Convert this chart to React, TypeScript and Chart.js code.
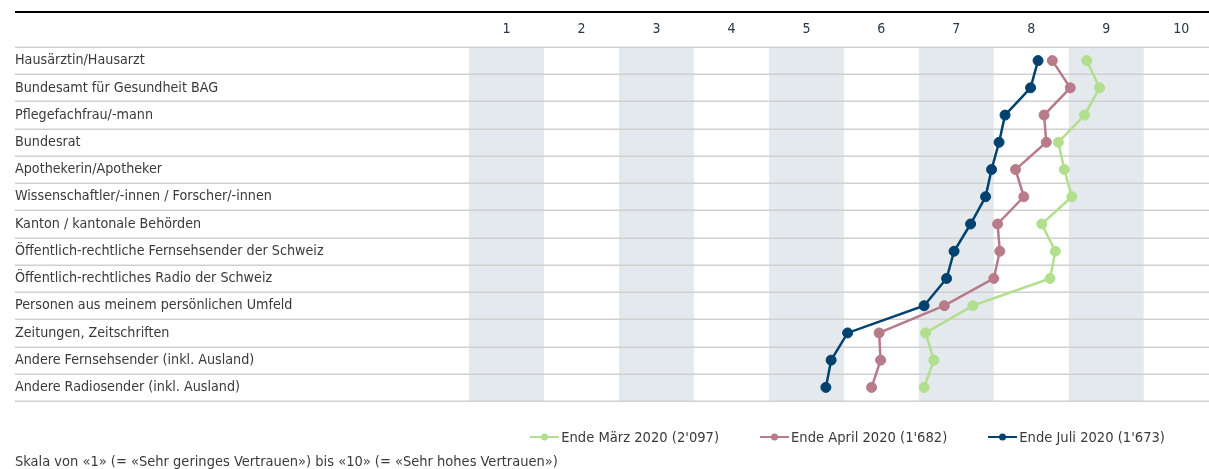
import React, { useEffect, useRef } from 'react';
import { Chart, registerables } from 'chart.js';

Chart.register(...registerables);

const categories = [
  'Hausärztin/Hausarzt',
  'Bundesamt für Gesundheit BAG',
  'Pflegefachfrau/-mann',
  'Bundesrat',
  'Apothekerin/Apotheker',
  'Wissenschaftler/-innen / Forscher/-innen',
  'Kanton / kantonale Behörden',
  'Öffentlich-rechtliche Fernsehsender der Schweiz',
  'Öffentlich-rechtliches Radio der Schweiz',
  'Personen aus meinem persönlichen Umfeld',
  'Zeitungen, Zeitschriften',
  'Andere Fernsehsender (inkl. Ausland)',
  'Andere Radiosender (inkl. Ausland)',
];

const marchValues = [8.74, 8.91, 8.71, 8.36, 8.44, 8.54, 8.14, 8.32, 8.25, 7.22, 6.59, 6.7, 6.57];
const aprilValues = [8.28, 8.52, 8.17, 8.2, 7.79, 7.9, 7.55, 7.58, 7.5, 6.84, 5.97, 5.99, 5.87];
const julyValues = [8.09, 7.99, 7.65, 7.57, 7.47, 7.39, 7.19, 6.97, 6.87, 6.57, 5.55, 5.33, 5.26];

const seriesLabels = ["Ende März 2020 (2'097)", "Ende April 2020 (1'682)", "Ende Juli 2020 (1'673)"];
const seriesColors = ['#b1df8e', '#b77b89', '#00426f'];

const tickValues = [1, 2, 3, 4, 5, 6, 7, 8, 9, 10];
const shadedColumns = [1, 3, 5, 7, 9];

const footnote = 'Skala von «1» (= «Sehr geringes Vertrauen») bis «10» (= «Sehr hohes Vertrauen»)';

const W = 1209;
const H = 469;
const labelFont = "'DejaVu Sans Condensed', 'DejaVu Sans', sans-serif";
const textColor = '#3a3a3a';

const backgroundPlugin = {
  id: 'rowsAndBands',
  beforeDatasetsDraw(chart: any) {
    const { ctx, chartArea, scales } = chart;
    const x = scales.x;
    const y = scales.y;
    ctx.save();
    ctx.fillStyle = '#e4e9ee';
    shadedColumns.forEach((v) => {
      const l = x.getPixelForValue(v - 0.5);
      const r = x.getPixelForValue(v + 0.5);
      ctx.fillRect(l, chartArea.top, r - l, chartArea.bottom - chartArea.top);
    });
    ctx.strokeStyle = '#d0d0d0';
    ctx.lineWidth = 1.5;
    for (let i = 0; i <= categories.length; i++) {
      const yy = Math.round(y.getPixelForValue(i - 0.5)) + 0.25;
      ctx.beginPath();
      ctx.moveTo(15, yy);
      ctx.lineTo(chart.width, yy);
      ctx.stroke();
    }
    ctx.strokeStyle = '#000000';
    ctx.lineWidth = 2;
    ctx.beginPath();
    ctx.moveTo(15, 12);
    ctx.lineTo(chart.width, 12);
    ctx.stroke();
    ctx.restore();
  },
};

export default function App() {
  const canvasRef = useRef<HTMLCanvasElement | null>(null);

  useEffect(() => {
    if (!canvasRef.current) return;
    const values = [marchValues, aprilValues, julyValues];
    const chart = new Chart(canvasRef.current, {
      type: 'line',
      data: {
        labels: categories,
        datasets: values.map((vals, i) => ({
          label: seriesLabels[i],
          data: vals,
          borderColor: seriesColors[i],
          backgroundColor: seriesColors[i],
          pointBackgroundColor: seriesColors[i],
          pointBorderColor: seriesColors[i],
          pointRadius: 5,
          pointBorderWidth: 1,
          borderWidth: 2.5,
          tension: 0,
          fill: false,
          order: 2 - i,
        })),
      },
      options: {
        indexAxis: 'y',
        responsive: false,
        animation: false,
        devicePixelRatio: 1,
        layout: { padding: { left: 15, right: 0, top: 0, bottom: 68 } },
        plugins: {
          legend: { display: false },
          tooltip: { enabled: false },
        },
        scales: {
          x: {
            type: 'linear',
            position: 'top',
            min: 0.5,
            max: 10.29,
            grid: { display: false },
            border: { display: false },
            afterBuildTicks: (scale: any) => {
              scale.ticks = tickValues.map((v) => ({ value: v }));
            },
            afterFit: (scale: any) => {
              scale.height = 47;
              scale.paddingLeft = 0;
              scale.paddingRight = 0;
            },
            ticks: {
              padding: 1,
              color: '#25384d',
              font: { family: labelFont, size: 14 },
              maxRotation: 0,
              autoSkip: false,
            },
          },
          y: {
            type: 'category',
            offset: true,
            grid: { display: false },
            border: { display: false },
            afterFit: (scale: any) => {
              scale.width = 454;
              scale.paddingTop = 0;
              scale.paddingBottom = 0;
            },
            ticks: {
              crossAlign: 'far',
              padding: 0,
              color: textColor,
              autoSkip: false,
              font: { family: labelFont, size: 14.2 },
            },
          },
        },
      },
      plugins: [backgroundPlugin],
    } as any);
    return () => chart.destroy();
  }, []);

  return (
    <div style={{ position: 'fixed', left: 0, top: 0, width: W, height: H, background: '#fff', overflow: 'hidden' }}>
      <canvas ref={canvasRef} width={W} height={H} style={{ display: 'block', width: W, height: H }} />
      <div
        style={{
          position: 'absolute',
          right: W - 1165,
          top: 428,
          display: 'flex',
          alignItems: 'center',
          gap: 41,
          fontFamily: labelFont,
          fontSize: 14.6,
          lineHeight: '18px',
          color: textColor,
          whiteSpace: 'nowrap',
        }}
      >
        {seriesLabels.map((lab, i) => (
          <div key={lab} style={{ display: 'flex', alignItems: 'center' }}>
            <div style={{ position: 'relative', width: 29, height: 18, marginRight: 2 }}>
              <div style={{ position: 'absolute', left: 0, top: 8, width: 29, height: 2, background: seriesColors[i] }} />
              <div
                style={{
                  position: 'absolute',
                  left: 11,
                  top: 5,
                  width: 7,
                  height: 7,
                  borderRadius: '50%',
                  background: seriesColors[i],
                  transform: 'translateY(0.5px)',
                }}
              />
            </div>
            <span>{lab}</span>
          </div>
        ))}
      </div>
      <div
        style={{
          position: 'absolute',
          left: 15,
          top: 452,
          fontFamily: labelFont,
          fontSize: 14.5,
          lineHeight: '18px',
          color: textColor,
          whiteSpace: 'nowrap',
        }}
      >
        {footnote}
      </div>
    </div>
  );
}
